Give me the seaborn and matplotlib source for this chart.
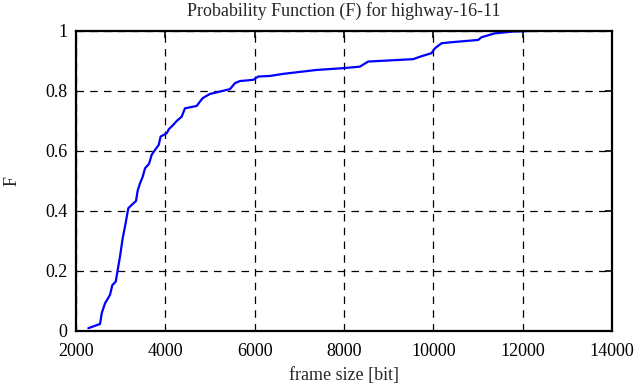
import matplotlib
matplotlib.use("Agg")
import matplotlib.pyplot as plt
import seaborn as sns
import pandas as pd

# frame size [bit] and cumulative probability
frame_size = [2275, 2537, 2575, 2649, 2760, 2813, 2888, 2932, 2984, 3044, 3096,
              3170, 3246, 3342, 3380, 3432, 3492, 3544, 3633, 3693, 3767, 3850,
              3894, 4029, 4080, 4177, 4253, 4364, 4438, 4700, 4834, 4998, 5445,
              5557, 5669, 5966, 6078, 6340, 6638, 7384, 7980, 8353, 8539, 9546,
              9696, 9957, 10031, 10181, 10367, 11000, 11075, 11373, 11783, 12195]
prob_f = [0.009, 0.023, 0.059, 0.092, 0.12, 0.153, 0.164, 0.203, 0.248, 0.309, 0.348,
          0.409, 0.42, 0.433, 0.468, 0.492, 0.514, 0.542, 0.557, 0.587, 0.603, 0.62,
          0.648, 0.659, 0.673, 0.687, 0.70, 0.714, 0.742, 0.75, 0.776, 0.79, 0.806,
          0.826, 0.833, 0.837, 0.848, 0.85, 0.857, 0.87, 0.876, 0.881, 0.898, 0.906,
          0.914, 0.926, 0.942, 0.959, 0.962, 0.97, 0.979, 0.992, 0.998, 1.0]

x_ticks = [2000, 4000, 6000, 8000, 10000, 12000, 14000]
y_ticks = [0, 0.2, 0.4, 0.6, 0.8, 1]
y_labels = ["0", "0.2", "0.4", "0.6", "0.8", "1"]

sns.set_style("white")
plt.rcParams["font.family"] = ["Liberation Serif", "DejaVu Serif"]

df = pd.DataFrame({"frame size [bit]": frame_size, "F": prob_f})

fig = plt.figure(figsize=(6.39, 3.87), dpi=100)
ax = fig.add_axes([0.119, 0.145, 0.839, 0.775])
sns.lineplot(data=df, x="frame size [bit]", y="F", ax=ax,
             color="#0000ff", linewidth=1.6, sort=False)

ax.set_xlim(2000, 14000)
ax.set_ylim(0, 1)
ax.set_xticks(x_ticks)
ax.set_xticklabels([str(t) for t in x_ticks])
ax.set_yticks(y_ticks)
ax.set_yticklabels(y_labels)
ax.grid(True, color="black", linestyle=(0, (6, 5)), linewidth=0.9)
ax.tick_params(direction="in", length=5, width=1.2, labelsize=13, colors="black",
               top=True, right=True)
ax.tick_params(axis="x", pad=9)
ax.tick_params(axis="y", pad=6)
for s in ax.spines.values():
    s.set_color("black")
    s.set_linewidth(1.6)

# title placed by hand, just above the frame as in the reference
fig.text(0.538, 0.972, "Probability Function (F) for highway-16-11",
         ha="center", va="center", fontsize=13)
ax.set_xlabel("frame size [bit]", fontsize=13, labelpad=5)
ax.set_ylabel("F", fontsize=13, labelpad=18)

fig.savefig("out.png", dpi=100)
